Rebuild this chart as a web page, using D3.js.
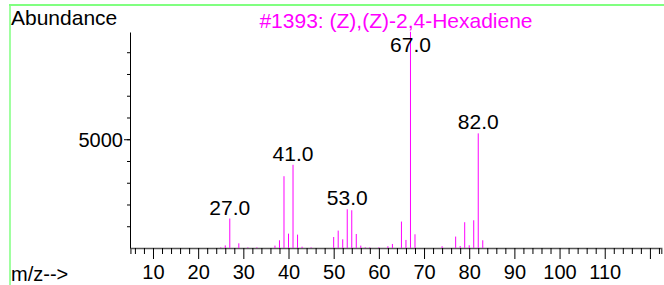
<!DOCTYPE html>
<html>
<head>
<meta charset="utf-8">
<script src="https://cdn.jsdelivr.net/npm/d3@7"></script>
<style>
  body { margin: 0; background: white; }
  svg { display: block; font-family: "Liberation Sans", Arial, sans-serif; }
</style>
</head>
<body>
<div id="chart"></div>
<script>
// spectrum data, m/z and abundance
var masses = [25, 26, 27, 29, 31, 33, 37, 38, 39, 40, 41, 42, 43, 45,
              50, 51, 52, 53, 54, 55, 56, 57, 58, 60, 62, 63, 65, 66, 67, 68,
              74, 77, 78, 79, 80, 81, 82, 83];
var abundances = [30, 120, 1355, 215, 30, 30, 110, 355, 3300, 660, 3825, 615, 60, 30,
                  505, 800, 400, 1780, 1735, 645, 110, 30, 30, 30, 80, 185, 1215, 370, 9940, 630,
                  80, 525, 90, 1185, 125, 1275, 5270, 355];
var labelledPeaks = [27, 41, 53, 67, 82];
var xMajorTicks = [10, 20, 30, 40, 50, 60, 70, 80, 90, 100, 110, 120];
var xTickLabels = ["10", "20", "30", "40", "50", "60", "70", "80", "90", "100", "110", ""];
var yMinorTicks = [1000, 2000, 3000, 4000, 5000, 6000, 7000, 8000, 9000];
var yMajorTicks = [5000];
var title = "#1393: (Z),(Z)-2,4-Hexadiene";

var width = 664, height = 285;

var svg = d3.select("#chart")
    .append("svg")
    .attr("width", width)
    .attr("height", height);

// green frame (top and left edge)
svg.append("line")
    .attr("x1", 9).attr("x2", width)
    .attr("y1", 5).attr("y2", 5)
    .attr("stroke", "#80ff80").attr("stroke-width", 2);
svg.append("line")
    .attr("x1", 10).attr("x2", 10)
    .attr("y1", 4).attr("y2", height)
    .attr("stroke", "#80ff80").attr("stroke-width", 1.5);

var x = d3.scaleLinear().domain([5, 122.5]).range([130.4, 661.2]);
var y = d3.scaleLinear().domain([0, 9930]).range([248, 32]);

// x axis: minor ticks every 2, major every 10
var xMinor = d3.range(6, 123, 2).filter(d => d % 10 != 0);
svg.append("g")
    .attr("transform", "translate(0,248)")
    .call(d3.axisBottom(x).tickValues(xMinor).tickSize(6).tickFormat(""))
    .call(g => g.select(".domain").attr("stroke", "#555").attr("stroke-width", 1.5));
var xAx = svg.append("g")
    .attr("transform", "translate(0,248)")
    .call(d3.axisBottom(x).tickValues(xMajorTicks).tickSize(11).tickSizeOuter(0)
        .tickFormat((d, i) => xTickLabels[i]));
xAx.select(".domain").remove();
xAx.selectAll("text")
    .attr("font-size", "20px")
    .attr("font-family", "Liberation Sans, Arial, sans-serif")
    .attr("fill", "#000")
    .attr("y", 0)
    .attr("dy", null)
    .attr("transform", "translate(0,31)");

// y axis
svg.append("g")
    .attr("transform", "translate(130,0)")
    .call(d3.axisLeft(y).tickValues(yMinorTicks).tickSize(3).tickSizeOuter(0).tickFormat(""))
    .call(g => g.select(".domain").attr("stroke", "#000"));
var yAx = svg.append("g")
    .attr("transform", "translate(130,0)")
    .call(d3.axisLeft(y).tickValues(yMajorTicks).tickSize(6).tickFormat(d3.format("d")));
yAx.select(".domain").remove();
yAx.selectAll("text")
    .attr("font-size", "20px")
    .attr("font-family", "Liberation Sans, Arial, sans-serif")
    .attr("fill", "#000")
    .attr("x", -7)
    .attr("dy", "0.36em");

// peaks
svg.append("g")
    .selectAll("line")
    .data(masses)
    .enter()
    .append("line")
    .attr("x1", (d) => x(d))
    .attr("x2", (d) => x(d))
    .attr("y1", y(0))
    .attr("y2", (d, i) => y(abundances[i]))
    .attr("stroke", "#ff00ff")
    .attr("stroke-width", 1);

// peak labels
svg.append("g")
    .selectAll("text")
    .data(labelledPeaks)
    .enter()
    .append("text")
    .attr("x", (d) => x(d))
    .attr("y", (d) => Math.max(y(abundances[masses.indexOf(d)]) - 4, 52))
    .attr("text-anchor", "middle")
    .attr("font-size", "21px")
    .attr("fill", "#000")
    .text((d) => d.toFixed(1));

// texts
svg.append("text")
    .attr("x", 11).attr("y", 25)
    .attr("font-size", "21px")
    .text("Abundance");
svg.append("text")
    .attr("x", 396).attr("y", 28)
    .attr("text-anchor", "middle")
    .attr("font-size", "21px")
    .attr("fill", "#ff00ff")
    .text(title);
svg.append("text")
    .attr("x", 11).attr("y", 281)
    .attr("font-size", "20px")
    .text("m/z-->");
</script>
</body>
</html>
